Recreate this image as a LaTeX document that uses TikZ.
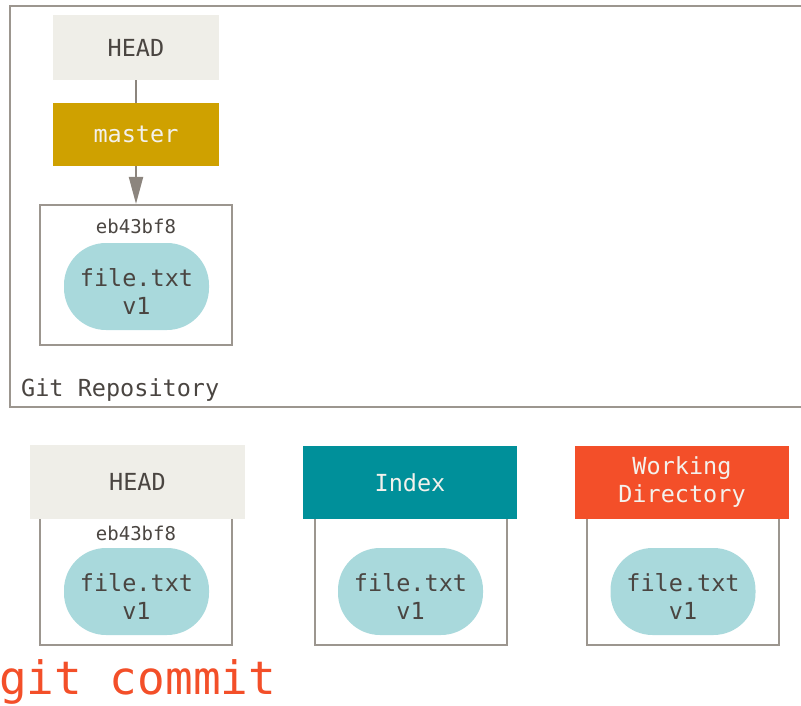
\documentclass[tikz,border=0pt]{standalone}
\usepackage{fontspec}
\newfontfamily\gitmono{DejaVu Sans Mono}
\usetikzlibrary{positioning, arrows.meta}

\definecolor{headgray}{HTML}{EFEEE8}
\definecolor{mastergold}{HTML}{CFA100}
\definecolor{indexteal}{HTML}{00909A}
\definecolor{workorange}{HTML}{F34F29}
\definecolor{blobblue}{HTML}{A9D9DC}
\definecolor{framegray}{HTML}{9C968F}
\definecolor{arrowgray}{HTML}{8C857E}
\definecolor{textdark}{HTML}{4A4541}
\definecolor{textlight}{HTML}{F3F1EC}

\tikzset{
    txt/.style={font=\gitmono\fontsize{23.5}{28}\selectfont, text=textdark},
    header/.style={txt, rectangle, inner sep=0pt, align=center},
    commitbox/.style={rectangle, draw=framegray, line width=2pt, minimum width=192pt},
    blob/.style={rectangle, rounded corners=42pt, fill=blobblue,
        minimum width=145pt, minimum height=87pt, inner sep=0pt},
    blobtext/.style={txt, align=center, inner sep=0pt, yshift=-5pt},
    sha/.style={font=\gitmono\fontsize{19}{22}\selectfont, text=textdark},
}

\begin{document}
\begin{tikzpicture}[x=1pt, y=-1pt]
    \useasboundingbox (0,0) rectangle (801,706);
    \clip (0,0) rectangle (801,706);

    % repository frame (runs off the right edge)
    \draw[framegray, line width=2pt] (10,6) rectangle (812,407);
    \node[txt, anchor=west, inner sep=0pt] (repolabel) at (21,390) {Git Repository};

    % HEAD -> master -> commit
    \node[header, fill=headgray, minimum width=166pt, minimum height=65pt]
        (headtop) at (136,47.5) {HEAD};
    \node[header, fill=mastergold, text=textlight, minimum width=166pt, minimum height=63pt]
        (master) at (136,134.5) {master};
    \node[commitbox, minimum height=140pt] (commit) at (136,275) {};
    \node[sha] (shatop) at (136,226) {eb43bf8};
    \node[blob] (blobtop) at (136.5,286.5) {};
    \node[blobtext] (filetop) at (blobtop.center) {file.txt\\v1};

    \draw[arrowgray, line width=2pt] (headtop) -- (master);
    \draw[arrowgray, line width=2pt, -{Triangle[length=27pt, width=14pt]}]
        (master) -- (commit);

    % the three trees
    \node[commitbox, minimum height=145pt] (headframe) at (136,572.5) {};
    \node[header, fill=headgray, minimum width=215pt, minimum height=74pt]
        (headtree) at (137.5,482) {HEAD};
    \node[sha] (shabottom) at (136,533) {eb43bf8};
    \node[blob] (blobhead) at (136.5,591.5) {};
    \node[blobtext] (filehead) at (blobhead.center) {file.txt\\v1};

    \node[commitbox, minimum height=145pt] (indexframe) at (411,572.5) {};
    \node[header, fill=indexteal, text=textlight, minimum width=214pt, minimum height=73pt]
        (indextree) at (410,482.5) {Index};
    \node[blob] (blobindex) at (410.5,591.5) {};
    \node[blobtext] (fileindex) at (blobindex.center) {file.txt\\v1};

    \node[commitbox, minimum height=145pt] (workframe) at (682.5,572.5) {};
    \node[header, fill=workorange, text=textlight, minimum width=214pt, minimum height=73pt]
        (worktree) at (682,482.5) {Working\\Directory};
    \node[blob] (blobwork) at (683,591.5) {};
    \node[blobtext] (filework) at (blobwork.center) {file.txt\\v1};

    % command
    \node[font=\gitmono\fontsize{46}{50}\selectfont, text=workorange, anchor=west, inner sep=0pt]
        (cmd) at (-1,682) {git commit};
\end{tikzpicture}
\end{document}
